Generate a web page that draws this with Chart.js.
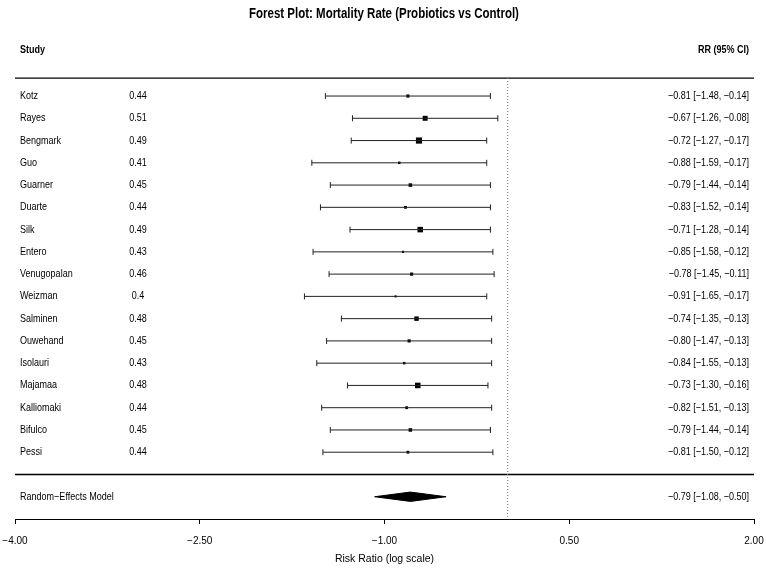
<!DOCTYPE html>
<html>
<head>
<meta charset="utf-8">
<script src="https://cdn.jsdelivr.net/npm/chart.js@4.4.1/dist/chart.umd.min.js"></script>
<style>
  html, body { margin: 0; padding: 0; background: #ffffff; }
  #wrap { width: 767px; height: 569px; position: relative; }
</style>
</head>
<body>
<div id="wrap"><canvas id="c" width="767" height="569"></canvas></div>
<script>
// ---- data ----
const studies = ['Kotz','Rayes','Bengmark','Guo','Guarner','Duarte','Silk','Entero','Venugopalan','Weizman','Salminen','Ouwehand','Isolauri','Majamaa','Kalliomaki','Bifulco','Pessi'];
const rrValues = [0.44,0.51,0.49,0.41,0.45,0.44,0.49,0.43,0.46,0.4,0.48,0.45,0.43,0.48,0.44,0.45,0.44];
const estimates = [-0.81,-0.67,-0.72,-0.88,-0.79,-0.83,-0.71,-0.85,-0.78,-0.91,-0.74,-0.80,-0.84,-0.73,-0.82,-0.79,-0.81];
const lowerCI = [-1.48,-1.26,-1.27,-1.59,-1.44,-1.52,-1.28,-1.58,-1.45,-1.65,-1.35,-1.47,-1.55,-1.30,-1.51,-1.44,-1.50];
const upperCI = [-0.14,-0.08,-0.17,-0.17,-0.14,-0.14,-0.14,-0.12,-0.11,-0.17,-0.13,-0.13,-0.13,-0.16,-0.13,-0.14,-0.12];
const summaryLabel = 'Random\u2212Effects Model';
const summaryEst = -0.79;
const summaryLower = -1.08;
const summaryUpper = -0.50;
const xTicks = [-4.00, -2.50, -1.00, 0.50, 2.00];
const refValue = 0;
const titleText = 'Forest Plot: Mortality Rate (Probiotics vs Control)';
const headerLeft = 'Study';
const headerRight = 'RR (95% CI)';
const xTitle = 'Risk Ratio (log scale)';

// ---- layout constants (styles) ----
const FONT = "'Liberation Sans Narrow', 'Arial Narrow', 'Liberation Sans', Arial, sans-serif";
const NARROW = 0.82;
const Y_MIN = -0.81, Y_MAX = 19.0;
const SEP_TOP = -0.80, SEP_BOTTOM = 17;
const SUMMARY_ROW = studies.length + 1;
const DIAMOND_HALF = 0.21;
const fmt = v => v.toFixed(2).replace('-', '\u2212');

// square sizes by inverse-variance weight (metafor-like rescaling)
const weights = lowerCI.map((l, i) => { const se = (upperCI[i] - l) / 3.92; return 1 / (se * se); });
const wMin = Math.min(...weights), wMax = Math.max(...weights);
const squareRadius = weights.map(w => (0.5 + (w - wMin) / (wMax - wMin)) * 2.9);

Chart.defaults.font.family = FONT;
Chart.defaults.color = '#000';

const datasets = [];
datasets.push({
  type: 'line', data: [{x: refValue, y: Y_MIN}, {x: refValue, y: Y_MAX}],
  borderColor: '#777', borderWidth: 1, borderDash: [1, 2], pointRadius: 0, showLine: true, clip: false
});
[SEP_TOP, SEP_BOTTOM].forEach(r => datasets.push({
  type: 'line', data: [{x: xTicks[0], y: r}, {x: xTicks[xTicks.length - 1], y: r}],
  borderColor: '#000', borderWidth: 1.3, pointRadius: 0, showLine: true, clip: false
}));
studies.forEach((s, i) => datasets.push({
  type: 'line', data: [{x: lowerCI[i], y: i}, {x: upperCI[i], y: i}],
  borderColor: '#222', borderWidth: 1, showLine: true,
  pointStyle: 'line', pointRotation: 90, pointRadius: 3, pointBorderColor: '#222', pointBorderWidth: 1
}));
datasets.push({
  type: 'scatter', data: estimates.map((e, i) => ({x: e, y: i})),
  pointStyle: 'rect', pointRadius: squareRadius, backgroundColor: '#000', borderWidth: 0
});
datasets.push({
  type: 'line', showLine: true,
  data: [
    {x: summaryLower, y: SUMMARY_ROW},
    {x: summaryEst, y: SUMMARY_ROW - DIAMOND_HALF},
    {x: summaryUpper, y: SUMMARY_ROW},
    {x: summaryEst, y: SUMMARY_ROW + DIAMOND_HALF},
    {x: summaryLower, y: SUMMARY_ROW}
  ],
  borderColor: '#000', borderWidth: 1, backgroundColor: '#000', fill: 'shape', pointRadius: 0, tension: 0
});

function narrowText(ctx, text, x, y, align) {
  ctx.save();
  ctx.translate(x, y);
  ctx.scale(NARROW, 1);
  ctx.textAlign = align;
  ctx.fillText(text, 0, 0);
  ctx.restore();
}

const textPlugin = {
  id: 'forestText',
  afterDraw(chart) {
    const ctx = chart.ctx, y = chart.scales.y;
    ctx.save();
    ctx.fillStyle = '#000';
    ctx.textBaseline = 'middle';
    ctx.font = 'bold 14px ' + FONT;
    narrowText(ctx, titleText, 384, 14, 'center');
    ctx.font = 'bold 11px ' + FONT;
    narrowText(ctx, headerLeft, 20, 50, 'left');
    narrowText(ctx, headerRight, 749, 50, 'right');
    ctx.font = '11px ' + FONT;
    studies.forEach((s, i) => {
      const py = y.getPixelForValue(i);
      narrowText(ctx, s, 20, py, 'left');
      narrowText(ctx, String(rrValues[i]), 138, py, 'center');
      narrowText(ctx, fmt(estimates[i]) + ' [' + fmt(lowerCI[i]) + ', ' + fmt(upperCI[i]) + ']', 749, py, 'right');
    });
    const ps = y.getPixelForValue(SUMMARY_ROW);
    narrowText(ctx, summaryLabel, 20, ps, 'left');
    narrowText(ctx, fmt(summaryEst) + ' [' + fmt(summaryLower) + ', ' + fmt(summaryUpper) + ']', 749, ps, 'right');
    ctx.restore();
  }
};

new Chart(document.getElementById('c'), {
  type: 'scatter',
  data: { datasets },
  plugins: [textPlugin],
  options: {
    responsive: false,
    animation: false,
    events: [],
    layout: { padding: { left: 15, right: 13, top: 78, bottom: 0 } },
    plugins: {
      legend: { display: false },
      tooltip: { enabled: false },
      title: { display: false }
    },
    scales: {
      x: {
        type: 'linear', min: xTicks[0], max: xTicks[xTicks.length - 1],
        afterBuildTicks: s => { s.ticks = xTicks.map(v => ({value: v})); },
        afterFit: s => { s.height = 50; s.paddingLeft = 0; s.paddingRight = 0; },
        ticks: { callback: v => fmt(v), font: { size: 10 }, color: '#000', padding: 11, maxRotation: 0, autoSkip: false },
        grid: { display: true, drawOnChartArea: false, drawTicks: true, tickLength: 5, color: '#000', tickWidth: 1 },
        border: { display: true, color: '#000', width: 1 },
        title: { display: true, text: xTitle, font: { size: 10.5 }, color: '#000', padding: { top: 0, bottom: 3.5 } }
      },
      y: {
        type: 'linear', reverse: true, min: Y_MIN, max: Y_MAX, display: false
      }
    }
  }
});
</script>
</body>
</html>
